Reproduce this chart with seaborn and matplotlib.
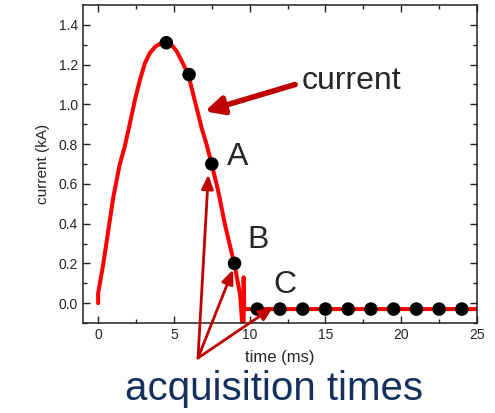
import numpy as np
import pandas as pd
import matplotlib
matplotlib.use("Agg")
import matplotlib.pyplot as plt
import seaborn as sns

# current waveform (ms, kA)
t_curve = [0.0, 0.0, 0.33, 0.66, 0.99, 1.43, 1.76, 2.10, 2.43, 2.76, 3.09, 3.42, 3.79,
           4.1, 4.5, 4.9, 5.2, 5.5, 5.95, 6.39, 6.83, 7.16, 7.49, 7.93, 8.37, 8.99,
           9.37, 9.52, 9.6, 9.6, 9.64, 25.0]
i_curve = [0.0, 0.05, 0.193, 0.36, 0.529, 0.70, 0.789, 0.906, 1.024, 1.124, 1.208, 1.259, 1.292,
           1.305, 1.312, 1.295, 1.265, 1.22, 1.15, 1.015, 0.881, 0.797, 0.70, 0.562, 0.394, 0.196,
           0.042, -0.12, -0.12, 0.13, -0.03, -0.03]

# acquisition times
t_acq = [4.5, 6.0, 7.5, 9.0, 10.5, 12.0, 13.5, 15.0, 16.5, 18.0, 19.5, 21.0, 22.5, 24.0]
i_acq = [1.31, 1.15, 0.70, 0.20, -0.03, -0.03, -0.03, -0.03, -0.03, -0.03, -0.03, -0.03, -0.03, -0.03]

curve = pd.DataFrame({"t": t_curve, "i": i_curve})
acq = pd.DataFrame({"t": t_acq, "i": i_acq})

sns.set_theme(style="ticks")
plt.rcParams["font.family"] = ["Liberation Sans", "DejaVu Sans"]
plt.rcParams["xtick.direction"] = "in"
plt.rcParams["ytick.direction"] = "in"

fig = plt.figure(figsize=(4.95, 4.13), dpi=100)
ax = fig.add_axes([83 / 495, 1 - 323 / 413, (477 - 83) / 495, (323 - 5) / 413])

sns.lineplot(data=curve, x="t", y="i", sort=False, estimator=None, color="#ff0000",
             linewidth=2.9, ax=ax, zorder=2)
sns.scatterplot(data=acq, x="t", y="i", color="black", s=95, edgecolor="none",
                ax=ax, zorder=3)

ax.set_xlim(-1, 25)
ax.set_ylim(-0.1, 1.5)
ax.set_xticks([0, 5, 10, 15, 20, 25])
ax.set_xticks([2.5, 7.5, 12.5, 17.5, 22.5], minor=True)
ax.set_yticks([0.0, 0.2, 0.4, 0.6, 0.8, 1.0, 1.2, 1.4])
ax.set_yticks(np.arange(-0.1, 1.5, 0.2), minor=True)
ax.yaxis.set_major_formatter(matplotlib.ticker.FormatStrFormatter("%.1f"))
ax.tick_params(which="both", top=True, right=True, labelsize=10, color="#222222")
ax.tick_params(which="major", length=5, width=1)
ax.tick_params(which="minor", length=3, width=1)
for s in ax.spines.values():
    s.set_color("#222222")
    s.set_linewidth(1.1)

ax.set_xlabel("time (ms)", fontsize=12, labelpad=6)
ax.set_ylabel("current (kA)", fontsize=11, labelpad=6)

red = "#c00000"
# "current" label and its arrow
ax.annotate("", xy=(7.05, 0.965), xytext=(13.0, 1.10),
            arrowprops=dict(arrowstyle="-|>,head_length=0.9,head_width=0.45",
                            color=red, lw=4, shrinkA=0, shrinkB=0))
ax.text(13.45, 1.116, "current", fontsize=23, va="center", ha="left")

ax.text(8.5, 0.737, "A", fontsize=23, va="center")
ax.text(9.85, 0.319, "B", fontsize=23, va="center")
ax.text(11.54, 0.092, "C", fontsize=23, va="center")

# acquisition time arrows from a common origin below the axes
for tip in [(7.27, 0.646), (8.9, 0.168), (11.55, -0.02)]:
    ax.annotate("", xy=tip, xytext=(198, 55), textcoords="figure pixels",
                annotation_clip=False,
                arrowprops=dict(arrowstyle="-|>,head_length=0.7,head_width=0.3",
                                color=red, lw=2, shrinkA=0, shrinkB=0))

fig.text(274 / 495, 1 - 389 / 413, "acquisition times", fontsize=29,
         color="#14305e", ha="center", va="center")

fig.savefig("out.png", dpi=100)
